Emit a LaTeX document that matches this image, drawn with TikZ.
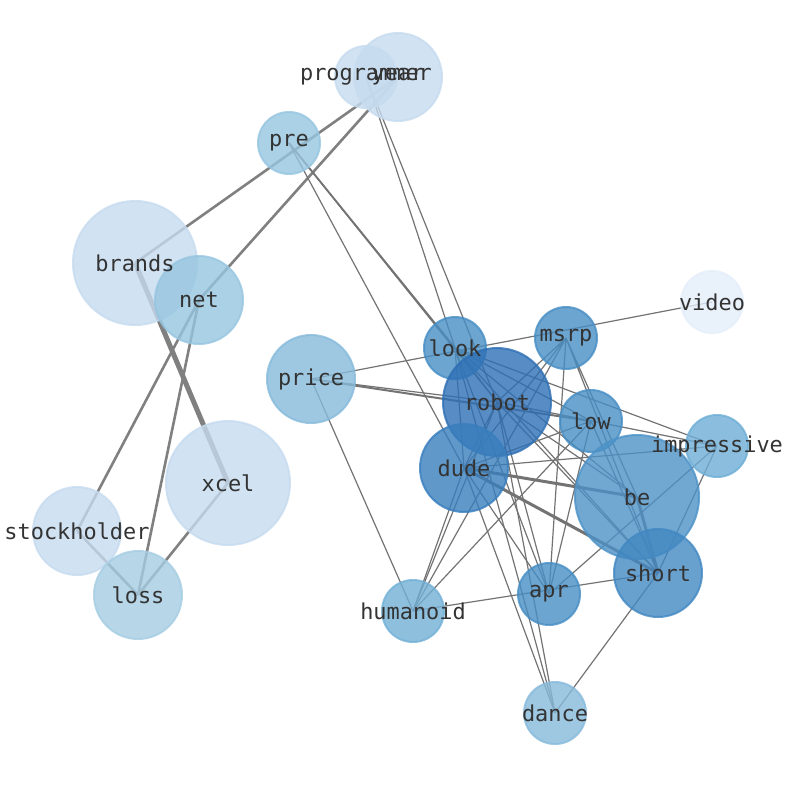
\documentclass[tikz,border=0pt]{standalone}
\usepackage{fontspec}
\newfontfamily\lblfont{DejaVu Sans Mono}
\definecolor{cVideo}{RGB}{228,238,249}
\definecolor{cPale}{RGB}{198,219,239}
\definecolor{cNet}{RGB}{150,197,224}
\definecolor{cLoss}{RGB}{165,205,227}
\definecolor{cPrice}{RGB}{134,186,219}
\definecolor{cHum}{RGB}{114,176,214}
\definecolor{cImp}{RGB}{110,174,214}
\definecolor{cMid}{RGB}{71,142,196}
\definecolor{cBe}{RGB}{76,146,199}
\definecolor{cShort}{RGB}{66,136,194}
\definecolor{cDude}{RGB}{56,126,189}
\definecolor{cRobot}{RGB}{46,111,181}
\tikzset{
  edge/.style={draw=black!55, line width=1.2},
  midedge/.style={draw=gray, line width=2.6},
  fatedge/.style={draw=gray, line width=5},
  bubble/.style={circle, inner sep=0, line width=2, fill opacity=0.8, draw opacity=0.8},
  lbl/.style={font=\lblfont\fontsize{21.9}{24}\selectfont, text=black!80, inner sep=0}
}
\begin{document}
\begin{tikzpicture}[x=1pt,y=-1pt]
    \useasboundingbox (0,0) rectangle (794,790);
    \coordinate (programmer) at (366,77);
    \coordinate (year) at (398,77);
    \coordinate (pre) at (289,143);
    \coordinate (brands) at (135,263);
    \coordinate (net) at (199,300);
    \coordinate (price) at (311,379);
    \coordinate (xcel) at (228,483);
    \coordinate (stockholder) at (77,531);
    \coordinate (loss) at (138,595);
    \coordinate (video) at (712,302);
    \coordinate (look) at (455,348);
    \coordinate (msrp) at (566,338);
    \coordinate (robot) at (497,402);
    \coordinate (low) at (591,421);
    \coordinate (impressive) at (717,446);
    \coordinate (dude) at (464,468);
    \coordinate (be) at (637,497);
    \coordinate (short) at (658,573);
    \coordinate (apr) at (549,594);
    \coordinate (humanoid) at (413,611);
    \coordinate (dance) at (555,713);

    \draw[midedge] (brands) -- (year) (net) -- (year) (net) -- (stockholder) (net) -- (loss)
        (stockholder) -- (loss) (xcel) -- (loss);
    \draw[fatedge] (brands) -- (xcel);
    \draw[edge, line width=1.8] (pre) -- (look);
    \draw[edge] (pre) -- (robot) (pre) -- (dude);
    \draw[edge] (programmer) -- (look) (programmer) -- (robot);
    \draw[edge] (price) -- (video) (price) -- (robot) (price) -- (humanoid);
    \draw[edge, line width=2] (price) -- (low);
    \draw[edge] (look) -- (robot) (look) -- (dude) (look) -- (be) (look) -- (short) (look) -- (apr)
        (look) -- (dance) (look) -- (impressive) (look) -- (low);
    \draw[edge] (msrp) -- (robot) (msrp) -- (dude) (msrp) -- (be) (msrp) -- (short) (msrp) -- (apr)
        (msrp) -- (humanoid);
    \draw[edge] (robot) -- (be) (robot) -- (short) (robot) -- (apr) (robot) -- (dude)
        (robot) -- (humanoid) (robot) -- (dance) (robot) -- (impressive);
    \draw[edge] (low) -- (dude) (low) -- (humanoid) (low) -- (apr) (low) -- (short);
    \draw[edge] (dude) -- (humanoid) (dude) -- (dance) (dude) -- (apr) (dude) -- (impressive);
    \draw[edge, line width=3] (dude) -- (be) (dude) -- (short) (be) -- (short);
    \draw[edge] (impressive) -- (apr) (impressive) -- (short) (humanoid) -- (short) (short) -- (dance);

    \node[bubble, minimum size=88, fill=cPale, draw=cPale] (yearc) at (year) {};
    \node[bubble, minimum size=62, fill=cPale, draw=cPale] (programmerc) at (programmer) {};
    \node[bubble, minimum size=62, fill=cNet, draw=cNet] (prec) at (pre) {};
    \node[bubble, minimum size=124, fill=cPale, draw=cPale] (brandsc) at (brands) {};
    \node[bubble, minimum size=88, fill=cNet, draw=cNet] (netc) at (net) {};
    \node[bubble, minimum size=88, fill=cPrice, draw=cPrice] (pricec) at (price) {};
    \node[bubble, minimum size=124, fill=cPale, draw=cPale] (xcelc) at (xcel) {};
    \node[bubble, minimum size=88, fill=cPale, draw=cPale] (stockholderc) at (stockholder) {};
    \node[bubble, minimum size=88, fill=cLoss, draw=cLoss] (lossc) at (loss) {};
    \node[bubble, minimum size=62, fill=cVideo, draw=cVideo] (videoc) at (video) {};
    \node[bubble, minimum size=62, fill=cMid, draw=cMid] (lookc) at (look) {};
    \node[bubble, minimum size=62, fill=cMid, draw=cMid] (msrpc) at (msrp) {};
    \node[bubble, minimum size=108, fill=cRobot, draw=cRobot] (robotc) at (robot) {};
    \node[bubble, minimum size=62, fill=cMid, draw=cMid] (lowc) at (low) {};
    \node[bubble, minimum size=62, fill=cImp, draw=cImp] (impressivec) at (impressive) {};
    \node[bubble, minimum size=88, fill=cDude, draw=cDude] (dudec) at (dude) {};
    \node[bubble, minimum size=124, fill=cBe, draw=cBe] (bec) at (be) {};
    \node[bubble, minimum size=88, fill=cShort, draw=cShort] (shortc) at (short) {};
    \node[bubble, minimum size=62, fill=cMid, draw=cMid] (aprc) at (apr) {};
    \node[bubble, minimum size=62, fill=cHum, draw=cHum] (humanoidc) at (humanoid) {};
    \node[bubble, minimum size=62, fill=cPrice, draw=cPrice] (dancec) at (dance) {};

    \node[lbl] (programmerl) at (programmer) {programmer};
    \node[lbl] (yearl) at (year) {year};
    \node[lbl] (prel) at (pre) {pre};
    \node[lbl] (brandsl) at (brands) {brands};
    \node[lbl] (netl) at (net) {net};
    \node[lbl] (pricel) at (price) {price};
    \node[lbl] (xcell) at (xcel) {xcel};
    \node[lbl] (stockholderl) at (stockholder) {stockholder};
    \node[lbl] (lossl) at (loss) {loss};
    \node[lbl] (videol) at (video) {video};
    \node[lbl] (lookl) at (look) {look};
    \node[lbl] (msrpl) at (msrp) {msrp};
    \node[lbl] (robotl) at (robot) {robot};
    \node[lbl] (lowl) at (low) {low};
    \node[lbl] (impressivel) at (impressive) {impressive};
    \node[lbl] (dudel) at (dude) {dude};
    \node[lbl] (bel) at (be) {be};
    \node[lbl] (shortl) at (short) {short};
    \node[lbl] (aprl) at (apr) {apr};
    \node[lbl] (humanoidl) at (humanoid) {humanoid};
    \node[lbl] (dancel) at (dance) {dance};
\end{tikzpicture}
\end{document}
